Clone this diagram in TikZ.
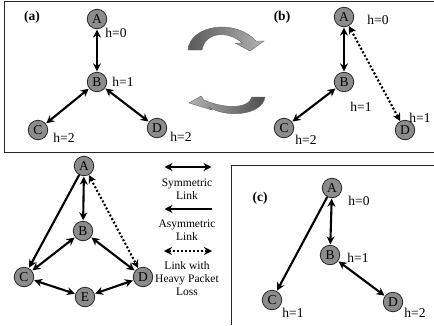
\documentclass[tikz,border=0pt]{standalone}
\usepackage{fontspec}
\setmainfont{Liberation Serif}
\usetikzlibrary{arrows.meta}
\begin{document}
\begin{tikzpicture}[x=1pt,y=-1pt,
  nd/.style={circle,draw=black!85,fill=black!45,line width=0.8pt,minimum size=19.5pt,inner sep=0pt,font=\fontsize{13.5}{13.5}\selectfont},
  lbl/.style={font=\fontsize{13.5}{13.5}\selectfont,inner sep=0pt},
  ttl/.style={font=\bfseries\fontsize{13.5}{13.5}\selectfont,inner sep=0pt},
  leg/.style={font=\fontsize{11.5}{13}\selectfont,align=center,inner sep=0pt},
  sym/.style={line width=2.1pt,{Stealth[length=8pt,width=8pt]}-{Stealth[length=8pt,width=8pt]},shorten <=0.5pt,shorten >=0.5pt},
  asym/.style={line width=2.1pt,-{Stealth[length=8pt,width=8pt]},shorten >=0.5pt},
  lossy/.style={line width=2.1pt,dash pattern=on 2pt off 2pt,{Stealth[length=8pt,width=8pt]}-{Stealth[length=8pt,width=8pt]}},
  frame/.style={line width=0.9pt,draw=black!85}]
\useasboundingbox (0,0) rectangle (434,325);
% frames
\draw[frame] (434,1) -- (4,1) -- (4,152) -- (434,152);
\draw[frame] (434,165) -- (231,165) -- (231,325);
% (a)
\node[ttl] at (32,17) {(a)};
\node[nd] (aA) at (97,19) {A};
\node[nd] (aB) at (97,82) {B};
\node[nd] (aC) at (38,130) {C};
\node[nd] (aD) at (157,128) {D};
\draw[sym] (aA) -- (aB);
\draw[sym] (aB) -- (aC);
\draw[sym] (aB) -- (aD);
\node[lbl] at (116,33) {h=0};
\node[lbl] at (123,82) {h=1};
\node[lbl] at (64,138) {h=2};
\node[lbl] at (181,137) {h=2};
% curved arrows
\draw[black!60,line width=0.4pt,left color=black!65,right color=black!30]
  (188,50) .. controls (190,25) and (235,18) .. (256,41) -- (264,41) -- (250,51) -- (235,43) -- (242,43) .. controls (228,30) and (205,32) .. (202,50) -- cycle;
\draw[black!60,line width=0.4pt,left color=black!30,right color=black!70]
  (265,97) .. controls (262,116) and (225,118) .. (209,107) -- (212,110) -- (189,103) -- (201,96) -- (204,100) .. controls (222,108) and (248,110) .. (252,97) -- cycle;
% (b)
\node[ttl] at (282,17) {(b)};
\node[nd] (bA) at (344,17) {A};
\node[nd] (bB) at (344,82) {B};
\node[nd] (bC) at (284,128) {C};
\node[nd] (bD) at (405,130) {D};
\draw[sym] (bA) -- (bB);
\draw[sym] (bB) -- (bC);
\draw[lossy] (bA) -- (bD);
\node[lbl] at (378,20) {h=0};
\node[lbl] at (361,107) {h=1};
\node[lbl] at (420,118) {h=1};
\node[lbl] at (306,140) {h=2};
% bottom-left
\node[nd] (lA) at (84,166) {A};
\node[nd] (lB) at (83,231) {B};
\node[nd] (lC) at (24,277) {C};
\node[nd] (lD) at (143,277) {D};
\node[nd] (lE) at (85,297) {E};
\draw[asym] (lA) -- (lC);
\draw[sym] (lA) -- (lB);
\draw[lossy] (lA) -- (lD);
\draw[sym] (lB) -- (lC);
\draw[sym] (lB) -- (lD);
\draw[sym] (lC) -- (lE);
\draw[sym] (lE) -- (lD);
% legend
\coordinate (s1) at (164,167); \coordinate (s2) at (212,167);
\draw[sym] (s1) -- (s2);
\node[leg] at (187,189) {Symmetric\\Link};
\coordinate (a1) at (212,209); \coordinate (a2) at (164,209);
\draw[asym] (a1) -- (a2);
\node[leg] at (187,230) {Asymmetric\\Link};
\coordinate (d1) at (164,251); \coordinate (d2) at (212,251);
\draw[lossy] (d1) -- (d2);
\node[leg] at (187,279) {Link with\\Heavy Packet\\Loss};
% (c)
\node[ttl] at (260,198) {(c)};
\node[nd] (cA) at (332,188) {A};
\node[nd] (cB) at (330,255) {B};
\node[nd] (cC) at (272,300) {C};
\node[nd] (cD) at (393,302) {D};
\draw[asym] (cA) -- (cC);
\draw[sym] (cA) -- (cB);
\draw[sym] (cB) -- (cD);
\node[lbl] at (359,201) {h=0};
\node[lbl] at (358,258) {h=1};
\node[lbl] at (293,313) {h=1};
\node[lbl] at (415,313) {h=2};
\end{tikzpicture}
\end{document}
